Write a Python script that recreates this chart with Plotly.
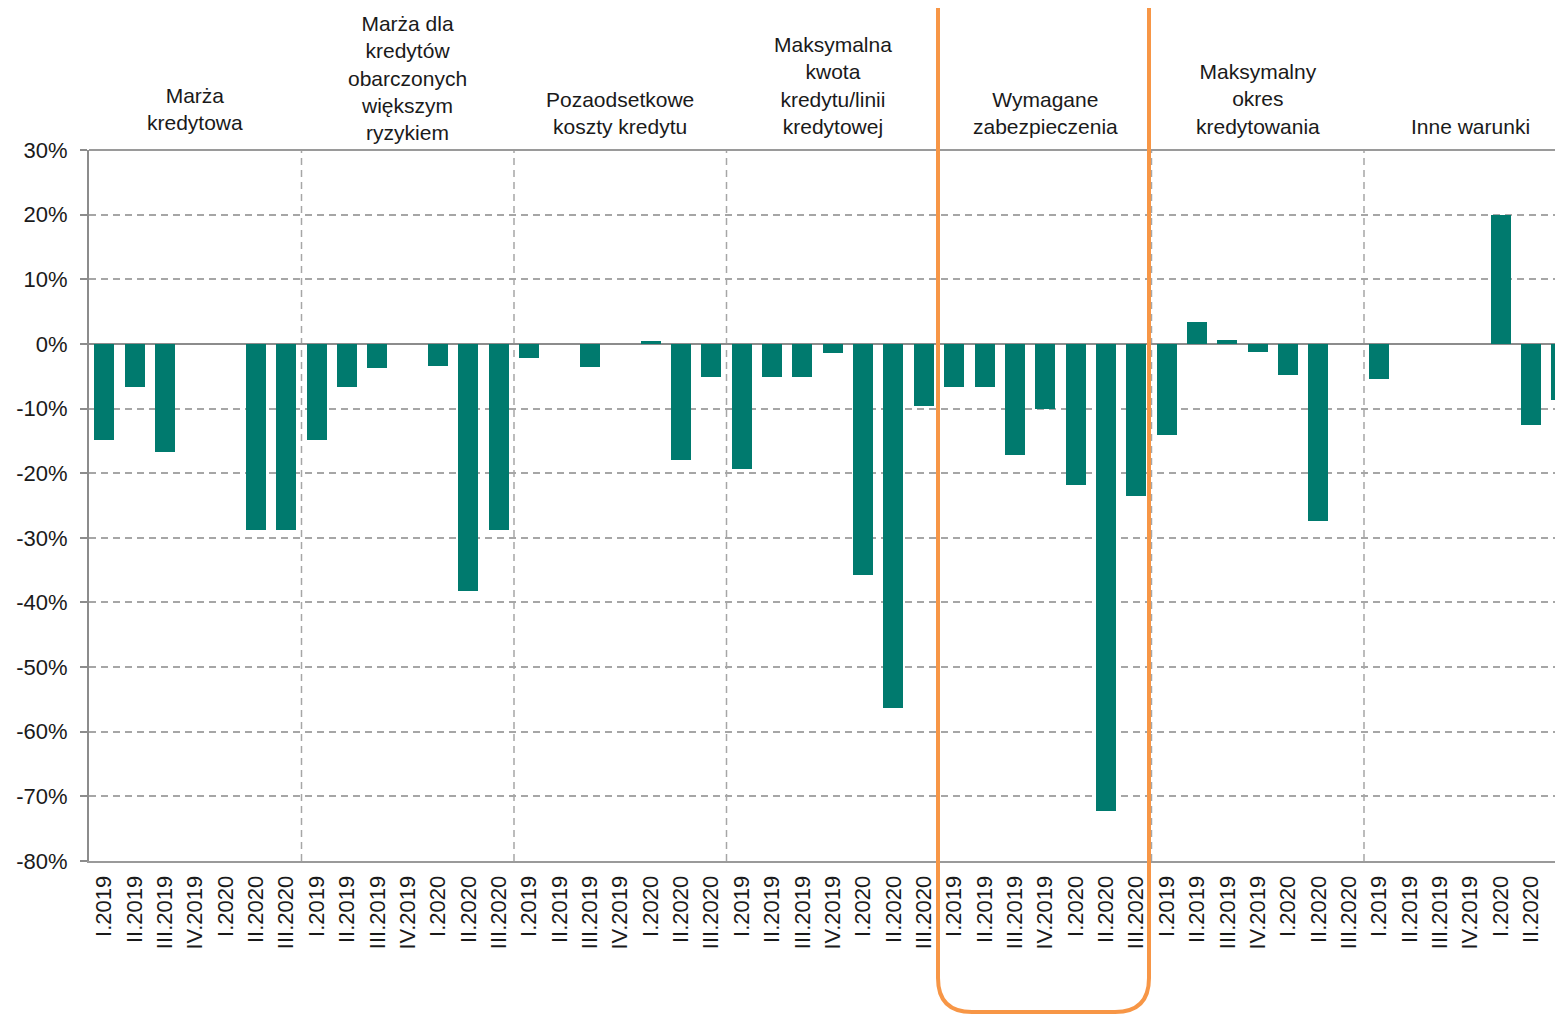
import plotly.graph_objects as go

# ---- data ----
quarters = ["I.2019", "II.2019", "III.2019", "IV.2019", "I.2020", "II.2020", "III.2020"]
groups = [
    "Marża<br>kredytowa",
    "Marża dla<br>kredytów<br>obarczonych<br>większym<br>ryzykiem",
    "Pozaodsetkowe<br>koszty kredytu",
    "Maksymalna<br>kwota<br>kredytu/linii<br>kredytowej",
    "Wymagane<br>zabezpieczenia",
    "Maksymalny<br>okres<br>kredytowania",
    "Inne warunki",
]
marza_kredytowa = [-14.8, -6.7, -16.7, 0.0, 0.0, -28.8, -28.8]
marza_ryzyko = [-14.8, -6.7, -3.8, 0.0, -3.4, -38.3, -28.8]
pozaodsetkowe = [-2.2, 0.0, -3.5, 0.0, 0.4, -18.0, -5.1]
maks_kwota = [-19.3, -5.1, -5.1, -1.4, -35.7, -56.3, -9.6]
zabezpieczenia = [-6.6, -6.6, -17.2, -10.1, -21.9, -72.3, -23.5]
maks_okres = [-14.1, 3.4, 0.6, -1.3, -4.8, -27.4, 0.0]
inne_warunki = [-5.4, 0.0, 0.0, 0.0, 20.0, -12.5, -8.6]
series = [marza_kredytowa, marza_ryzyko, pozaodsetkowe, maks_kwota,
          zabezpieczenia, maks_okres, inne_warunki]

y_tickvals = [30, 20, 10, 0, -10, -20, -30, -40, -50, -60, -70, -80]
y_ticktext = ["30%", "20%", "10%", "0%", "-10%", "-20%", "-30%", "-40%",
              "-50%", "-60%", "-70%", "-80%"]

# ---- build ----
nq = len(quarters)
xs, ys, labels = [], [], []
for g, vals in enumerate(series):
    for q, v in enumerate(vals):
        xs.append(g * nq + q)
        ys.append(v)
        labels.append(quarters[q])

FONT = "Liberation Sans, Arial, sans-serif"
TEAL = "#007A6E"
GRID = "#A6A6A6"
OFF = 8  # page body margin
W, H = 1563 - OFF, 1015 - OFF
ML, MT, MB = 89 - OFF, 150 - OFF, 154
plot_w = W - ML
plot_h = H - MT - MB
px_per_cat = 212.5 / nq
x_max = plot_w / px_per_cat - 0.5

fig = go.Figure()
fig.add_trace(go.Bar(x=xs, y=ys, marker=dict(color=TEAL, line=dict(width=0)),
                     width=0.66, showlegend=False))

shapes = []
# group separators
for g in range(1, len(series)):
    shapes.append(dict(type="line", xref="x", yref="paper",
                       x0=g * nq - 0.5, x1=g * nq - 0.5, y0=0, y1=1,
                       line=dict(color=GRID, width=1.5, dash="7px,5px"), layer="below"))
# top border
shapes.append(dict(type="line", xref="paper", yref="paper", x0=0, x1=1, y0=1, y1=1,
                   line=dict(color="#9A9A9A", width=2)))

# orange rounded highlight (viewport pixel geometry converted to paper units)
def px2paper_x(px):
    return (px - OFF - ML) / plot_w

def px2paper_y(py):
    return (H - MB - (py - OFF)) / plot_h

left, right, top, bottom, r = 938, 1149, -30, 1012, 34
xl, xr = px2paper_x(left), px2paper_x(right)
yt, yb = px2paper_y(top), px2paper_y(bottom)
rx = r / plot_w
ry = r / plot_h
path = (f"M {xl+rx},{yt} L {xr-rx},{yt} Q {xr},{yt} {xr},{yt-ry} "
        f"L {xr},{yb+ry} Q {xr},{yb} {xr-rx},{yb} "
        f"L {xl+rx},{yb} Q {xl},{yb} {xl},{yb+ry} "
        f"L {xl},{yt-ry} Q {xl},{yt} {xl+rx},{yt} Z")
shapes.append(dict(type="path", xref="paper", yref="paper", path=path,
                   line=dict(color="#F79646", width=4), fillcolor="rgba(0,0,0,0)",
                   layer="above"))

annotations = []
yshifts = [14, 4, 10, 10, 10, 10, 10]
for g, name in enumerate(groups):
    annotations.append(dict(x=g * nq + (nq - 1) / 2, y=1, xref="x", yref="paper",
                            text=name, showarrow=False, yanchor="bottom",
                            yshift=yshifts[g],
                            font=dict(family=FONT, size=21, color="#1A1A1A")))

fig.update_layout(
    width=W, height=H,
    margin=dict(l=ML, r=0, t=MT, b=MB),
    plot_bgcolor="white", paper_bgcolor="white",
    shapes=shapes, annotations=annotations,
    bargap=0,
    xaxis=dict(range=[-0.5, x_max], tickmode="array", tickvals=xs, ticktext=labels,
               tickangle=-90, showgrid=False, zeroline=False,
               showline=True, linecolor="#9A9A9A", linewidth=2, ticks="",
               ticklabelstandoff=4,
               tickfont=dict(family=FONT, size=22, color="#1A1A1A")),
    yaxis=dict(range=[-80, 30], tickmode="array", tickvals=y_tickvals, ticktext=y_ticktext,
               showgrid=True, gridcolor=GRID, gridwidth=1.5, griddash="7px,5px",
               zeroline=True, zerolinecolor="#8C8C8C", zerolinewidth=2,
               showline=True, linecolor="#8C8C8C", linewidth=2,
               ticks="outside", ticklen=7, tickcolor="#8C8C8C", tickwidth=1.5,
               ticklabelstandoff=8,
               tickfont=dict(family=FONT, size=22, color="#1A1A1A")),
)

fig.write_html("out.html")
